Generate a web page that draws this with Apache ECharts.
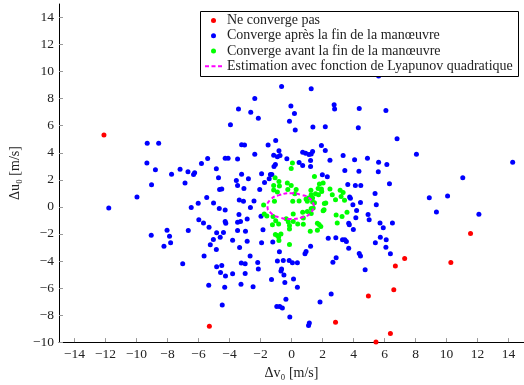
<!DOCTYPE html>
<html><head><meta charset="utf-8">
<script src="https://cdn.jsdelivr.net/npm/echarts@6/dist/echarts.min.js"></script>
<style>html,body{margin:0;padding:0;background:#fff}#c{width:524px;height:385px}</style>
</head><body><div id="c"></div>
<script>
const seriesNames = ['Ne converge pas','Converge après la fin de la manœuvre','Converge avant la fin de la manœuvre','Estimation avec fonction de Lyapunov quadratique'];
const xTicks = [-14,-12,-10,-8,-6,-4,-2,0,2,4,6,8,10,12,14];
const yTicks = [-10,-8,-6,-4,-2,0,2,4,6,8,10,12,14];
const redPts = [[-12.1,5.32],[11.55,-1.97],[7.3,-3.81],[10.28,-4.11],[6.7,-4.38],[6.6,-6.12],[4.96,-6.59],[-5.3,-8.82],[2.84,-8.53],[6.38,-9.36],[5.45,-10.0]];
const bluePts = [
[5.62,9.68],[-0.64,8.9],[1.27,8.73],[-2.37,8.02],[-0.04,7.45],[2.75,7.55],[2.78,7.23],[4.37,7.28],[6.09,7.13],[-3.42,7.23],
[-2.63,6.99],[0.19,6.91],[-2.14,6.55],[-0.13,6.33],[-3.94,6.08],[0.24,5.68],[1.38,5.9],[2.18,5.93],[4.31,5.85],[6.81,5.04],
[-9.31,4.71],[-8.57,4.71],[-3.22,4.6],[-3.03,4.58],[-1.51,4.58],[-1.02,4.9],[1.93,4.53],[2.18,4.16],[-0.81,4.14],[0.72,4.04],
[0.91,3.97],[1.13,3.87],[1.27,3.9],[1.36,4.09],[-2.37,3.89],[8.06,3.89],[-1.15,3.82],[-0.91,3.7],[-0.74,3.79],[3.33,3.79],
[-4.28,3.6],[-4.09,3.6],[-3.48,3.53],[-5.41,3.57],[-0.3,3.55],[4.9,3.6],[2.48,3.45],[4.07,3.48],[1.23,3.42],[0.49,3.28],
[5.62,3.3],[14.27,3.3],[-9.33,3.25],[-5.81,3.2],[-1.04,3.13],[-1.13,2.98],[6.15,3.13],[0.72,3.06],[1.23,2.98],[-4.85,2.81],
[-8.78,2.74],[-7.19,2.79],[3.44,2.69],[4.35,2.64],[-6.68,2.59],[5.6,2.59],[-7.74,2.42],[-6.32,2.39],[-6.25,2.52],[-3.22,2.42],
[-1.93,2.44],[-1.27,2.39],[-1.36,2.39],[1.99,2.37],[2.31,2.22],[-4.71,2.15],[11.05,2.15],[-1.44,2.08],[-2.78,2.08],[-3.56,1.95],
[-6.87,1.76],[-1.74,1.8],[6.32,1.71],[3.63,1.66],[4.12,1.58],[4.47,1.58],[-9.03,1.63],[-3.48,1.58],[-4.64,1.29],[-4.5,1.32],
[-3.07,1.36],[-2.05,1.29],[5.39,0.99],[8.89,0.68],[10.07,0.8],[3.75,0.73],[3.8,0.63],[-5.47,0.7],[-9.97,0.73],[-3.37,0.51],
[-3.1,0.41],[-2.42,0.43],[4.45,0.33],[-6.02,0.26],[-5.03,0.29],[3.96,0.16],[5.47,0.16],[-11.79,-0.08],[-6.47,-0.04],[-2.65,-0.04],
[-4.66,-0.13],[-4.28,-0.23],[4.2,-0.26],[9.35,-0.38],[12.09,-0.55],[-3.39,-0.57],[-1.97,-0.7],[4.15,-0.8],[4.94,-0.57],[-2.86,-0.89],
[5.01,-0.96],[-5.98,-0.96],[-5.68,-1.19],[-4.28,-1.09],[-4.24,-1.21],[-3.48,-1.14],[-3.29,-1.09],[3.69,-1.21],[3.73,-1.33],[5.71,-1.19],
[6.51,-1.19],[-5.32,-1.51],[5.92,-1.55],[3.99,-1.68],[-6.66,-1.75],[-8.03,-1.73],[-4.83,-1.92],[-4.39,-1.9],[-3.48,-1.75],[-2.97,-1.8],
[-1.84,-1.7],[-9.05,-2.1],[-7.87,-2.17],[-4.6,-2.25],[5.73,-2.25],[2.37,-2.32],[2.86,-2.29],[-5.04,-2.42],[-3.8,-2.47],[3.29,-2.44],
[3.44,-2.44],[3.54,-2.56],[6.11,-2.44],[-2.86,-2.54],[-1.93,-2.66],[-1.21,-2.59],[5.41,-2.66],[-7.8,-2.66],[-5.24,-2.81],[-8.23,-2.91],
[1.23,-2.91],[-3.35,-3.0],[6.09,-2.98],[3.69,-3.06],[-4.85,-3.15],[0.94,-3.3],[0.87,-3.47],[-0.78,-3.32],[4.37,-3.45],[4.45,-3.64],
[6.38,-3.47],[-5.64,-3.64],[-2.67,-3.64],[2.88,-3.76],[2.67,-4.09],[-0.91,-4.01],[-0.53,-3.96],[-0.15,-3.96],[0.06,-4.13],[0.38,-4.13],
[-7.02,-4.2],[-3.24,-4.16],[-2.99,-4.2],[-2.18,-4.11],[-4.83,-4.43],[-4.5,-4.33],[-2.14,-4.6],[-0.64,-4.6],[-0.68,-4.75],[4.75,-4.65],
[-4.58,-4.85],[-3.8,-4.94],[-2.99,-4.92],[-4.26,-5.12],[-0.49,-5.04],[-1.29,-5.38],[0.13,-5.34],[-0.43,-5.6],[-3.26,-5.73],[-5.34,-5.8],
[-4.31,-5.95],[-2.48,-5.9],[0.38,-5.95],[2.56,-6.44],[-0.36,-6.83],[1.84,-7.03],[-4.47,-7.25],[-0.95,-7.37],[-0.76,-7.37],[-0.59,-7.47],
[-0.11,-8.14],[1.15,-8.58],[1.1,-8.77]];
const greenPts = [
[0.06,3.25],[-0.02,2.84],[1.48,2.25],[1.8,1.69],[2.04,1.76],[-1.06,2.15],[-0.81,1.88],[-0.27,1.76],[-0.02,1.58],[-1.15,1.58],
[-0.78,1.54],[-0.24,1.29],[0.3,1.29],[-0.91,1.1],[-1.15,1.24],[-1.8,0.14],[-1.1,0.41],[0.08,0.41],[1.72,1.36],[1.93,1.32],
[1.95,1.14],[1.55,0.97],[1.74,0.9],[2.48,1.32],[2.63,0.9],[2.84,0.53],[3.14,1.22],[3.33,1.07],[3.2,0.77],[3.42,0.48],
[1.25,1.22],[1.27,0.9],[1.1,0.66],[0.94,0.58],[1.36,0.66],[1.02,0.41],[1.36,0.36],[2.21,0.29],[2.1,-0.21],[1.4,-0.08],
[-1.76,-0.52],[-1.19,-0.72],[-1.02,-1.02],[-0.83,-1.26],[-1.23,-1.33],[-0.34,-0.87],[0.11,-0.52],[0.11,-1.09],[0.4,-1.26],[-0.13,-1.38],
[-0.13,-1.63],[-1.04,-2.05],[-0.91,-2.12],[-0.68,-2.0],[-0.83,-2.22],[-0.81,-2.49],[-0.13,-2.78],[0.72,-0.4],[1.02,-0.35],[0.76,-0.82],
[0.76,-1.29],[2.04,-0.28],[2.88,-0.6],[3.26,-0.72],[3.58,-0.4],[2.95,-1.19],[1.67,-1.21],[1.78,-1.31],[1.89,-1.46],[1.21,-1.8],
[1.67,-1.73],[-0.21,-1.11],[1.27,-0.13],[1.27,-0.5],[0.21,0.97],[2.12,0.24],[1.48,0.31],[0.49,0.43],[-1.59,-0.67]];
const ellipsePts = [[1.45,0.05],[1.25,0.53],[0.7,0.87],[-0.05,1.0],[-0.8,0.87],[-1.35,0.53],[-1.55,0.05],[-1.35,-0.43],[-0.8,-0.77],[-0.05,-0.9],[0.7,-0.77],[1.25,-0.43],[1.45,0.05]];

const FONT = 'Liberation Serif';
const fmt = v => String(v).replace('-', '\u2212');
const chart = echarts.init(document.getElementById('c'), null, {renderer:'canvas'});
chart.setOption({
  animation: false,
  backgroundColor: '#fff',
  grid: {left: 57, right: -5, top: 4, bottom: 41},
  xAxis: {
    type: 'value', min: -15, max: 15, interval: 1,
    name: 'Δv₀ [m/s]', nameLocation: 'middle', nameGap: 22,
    nameTextStyle: {fontFamily: FONT, fontSize: 14, color: '#222'},
    axisLine: {show: true, onZero: false, lineStyle: {color: '#000', width: 1}},
    axisTick: {show: true, inside: true, length: 4, customValues: xTicks, lineStyle: {color: '#999'}},
    axisLabel: {customValues: xTicks, formatter: fmt, fontFamily: FONT, fontSize: 13.5, color: '#222', margin: 5},
    splitLine: {show: false}
  },
  yAxis: {
    type: 'value', min: -10, max: 15, interval: 1,
    name: 'Δu₀ [m/s]', nameLocation: 'middle', nameGap: 34, nameRotate: 90,
    nameTextStyle: {fontFamily: FONT, fontSize: 14, color: '#222'},
    axisLine: {show: true, onZero: false, lineStyle: {color: '#000', width: 1}},
    axisTick: {show: true, inside: true, length: 4, customValues: yTicks, lineStyle: {color: '#999'}},
    axisLabel: {customValues: yTicks, formatter: fmt, fontFamily: FONT, fontSize: 13.5, color: '#222', margin: 5},
    splitLine: {show: false}
  },
  graphic: [{type: 'rect', z: 50, shape: {x: 200.5, y: 11.5, width: 318, height: 65}, style: {fill: '#fff', stroke: '#000', lineWidth: 1}}],
  legend: {
    orient: 'vertical', left: 204, top: 13, padding: 0, itemGap: 0, z: 60,
    itemWidth: 17, itemHeight: 5,
    textStyle: {fontFamily: FONT, fontSize: 14, color: '#222', lineHeight: 15.2, padding: [0,0,0,0]},
    data: [
      {name: seriesNames[0], icon: 'circle'},
      {name: seriesNames[1], icon: 'circle'},
      {name: seriesNames[2], icon: 'circle'},
      {name: seriesNames[3]}
    ]
  },
  series: [
    {name: seriesNames[0], type: 'scatter', z: 2, data: redPts, symbolSize: 5, itemStyle: {color: '#ff0000', opacity: 1}},
    {name: seriesNames[1], type: 'scatter', z: 2, data: bluePts, symbolSize: 5, itemStyle: {color: '#0000ff', opacity: 1}},
    {name: seriesNames[2], type: 'scatter', z: 3, data: greenPts, symbolSize: 5, itemStyle: {color: '#00ff00', opacity: 1}},
    {name: seriesNames[3], type: 'line', z: 10, zlevel: 1, data: ellipsePts, smooth: 0.6, symbol: 'none', showSymbol: false,
     itemStyle: {color: '#ff00ff', opacity: 0}, lineStyle: {color: '#ff00ff', opacity: 1, width: 2, type: [4, 2.5]}}
  ]
});
</script></body></html>
